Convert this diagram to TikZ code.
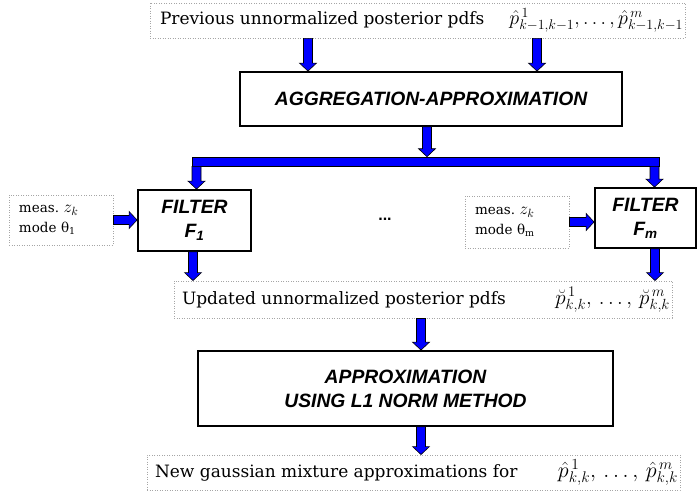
\RequirePackage{fix-cm}
\documentclass[tikz,border=0pt]{standalone}
\usepackage{fontspec}
\setmainfont{DejaVu Serif}
\newfontfamily\labfont{Liberation Sans}
\usetikzlibrary{calc}
\newcommand\mth[2]{{\fontsize{#1}{24}\selectfont$#2$}}
\newcommand\lineL[4]{\makebox[#1][l]{\hspace{#2}#3\hfill#4\hspace{2pt}}}
\tikzset{
 dotbox/.style={draw=gray!70, dash pattern=on 1pt off 1.5pt, line width=0.9pt, inner sep=0pt, font=\fontsize{17}{20}\selectfont},
 measbox/.style={dotbox, align=left, text width=84pt, inner xsep=10pt, font=\fontsize{13.5}{20}\selectfont},
 solbox/.style={draw=black, line width=1.8pt, font=\labfont\bfseries\itshape\fontsize{19.3}{24}\selectfont, align=center, inner sep=0pt},
 blk/.style={fill=blue, draw=black, line width=0.6pt, line join=miter},
}
\newcommand\blkdn[2]{\filldraw[blk] let \p1=(#1), \p2=(#2) in (\x1-4.5pt,\y1) -- (\x1-4.5pt,\y2+8pt) -- (\x1-8.5pt,\y2+8pt) -- (\x1,\y2) -- (\x1+8.5pt,\y2+8pt) -- (\x1+4.5pt,\y2+8pt) -- (\x1+4.5pt,\y1) -- cycle;}
\newcommand\blkrt[2]{\filldraw[blk] let \p1=(#1), \p2=(#2) in (\x1,\y1+4.5pt) -- (\x2-8pt,\y1+4.5pt) -- (\x2-8pt,\y1+8.5pt) -- (\x2,\y1) -- (\x2-8pt,\y1-8.5pt) -- (\x2-8pt,\y1-4.5pt) -- (\x1,\y1-4.5pt) -- cycle;}
\begin{document}
\begin{tikzpicture}[x=1pt,y=-1pt]
\useasboundingbox (0,0) rectangle (697,495);
% nodes
\node[dotbox, minimum width=535, minimum height=35] (prev) at (417.5,20.5)
  {\lineL{535pt}{10pt}{Previous unnormalized posterior pdfs}{\mth{20}{\hat{p}^{\,1}_{k-1,k-1},\ldots,\hat{p}^{\,m}_{k-1,k-1}}}};
\node[solbox, minimum width=382, minimum height=54] (agg) at (431,99) {AGGREGATION-APPROXIMATION};
\node[blk, inner sep=0pt, minimum width=467, minimum height=9] (bar) at (425.5,161.5) {};
\node[solbox, minimum width=113, minimum height=61] (f1) at (194.5,220.5) {FILTER\\F\textsubscript{1}};
\node[solbox, minimum width=101, minimum height=60] (fm) at (645.5,218) {FILTER\\F\textsubscript{m}};
\node[measbox, minimum height=50] (m1) at (61,220) {meas.\ {\fontsize{17}{17}\selectfont$z_k$}\\mode θ\textsubscript{1}};
\node[measbox, minimum height=52] (mm) at (517,222) {meas.\ {\fontsize{17}{17}\selectfont$z_k$}\\mode θ\textsubscript{m}};
\node[font=\labfont\bfseries\fontsize{16}{18}\selectfont] (dots) at (385,219) {...};
\node[dotbox, minimum width=498, minimum height=37] (upd) at (423,299.5)
  {\lineL{498pt}{8pt}{Updated unnormalized posterior pdfs}{\mth{21}{\breve{p}^{\,1}_{k,k},\,\ldots,\,\breve{p}^{\,m}_{k,k}}}};
\node[solbox, minimum width=415, minimum height=75] (appr) at (405.5,388.5) {APPROXIMATION\\USING L1 NORM METHOD};
\node[dotbox, minimum width=533, minimum height=35] (new) at (413.5,472.5)
  {\lineL{533pt}{8pt}{New gaussian mixture approximations for}{\mth{22}{\hat{p}^{\,1}_{k,k},\,\ldots,\,\hat{p}^{\,m}_{k,k}}}};
% arrow reference x positions
\coordinate (xa) at (308,0);
\coordinate (xb) at (537,0);
\coordinate (xc) at (427,0);
\coordinate (xd) at (196.5,0);
\coordinate (xe) at (654.5,0);
\coordinate (xf) at (193,0);
\coordinate (xg) at (655,0);
\coordinate (xh) at (421,0);
\coordinate (ya) at (0,220);
\coordinate (yb) at (0,222);
% connectors
\blkdn{xa |- prev.south}{xa |- agg.north}
\blkdn{xb |- prev.south}{xb |- agg.north}
\blkdn{xc |- agg.south}{xc |- bar.north}
\blkdn{xd |- bar.south}{xd |- f1.north}
\blkdn{xe |- bar.south}{xe |- fm.north}
\blkrt{m1.east |- ya}{f1.west |- ya}
\blkrt{mm.east |- yb}{fm.west |- yb}
\blkdn{xf |- f1.south}{xf |- upd.north}
\blkdn{xg |- fm.south}{xg |- upd.north}
\blkdn{xh |- upd.south}{xh |- appr.north}
\blkdn{xh |- appr.south}{xh |- new.north}
\end{tikzpicture}
\end{document}
